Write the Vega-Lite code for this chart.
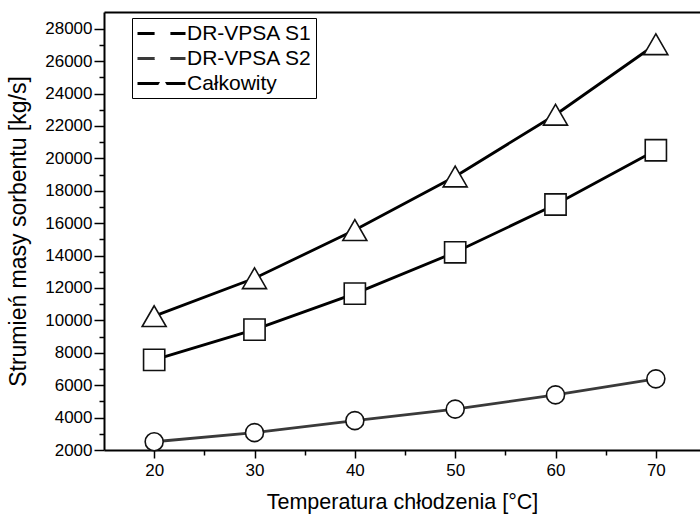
{
  "$schema": "https://vega.github.io/schema/vega-lite/v6.json",
  "width": 596,
  "height": 438,
  "autosize": "none",
  "padding": {"left": 104, "top": 12, "right": 0, "bottom": 68},
  "background": "white",
  "config": {
    "font": "Liberation Sans",
    "view": {"stroke": null},
    "axis": {"labelFont": "Liberation Sans", "titleFont": "Liberation Sans", "labelColor": "black", "titleColor": "black", "domainColor": "black", "tickColor": "black", "grid": false, "titleFontWeight": "normal"},
    "legend": {"labelFont": "Liberation Sans", "labelColor": "black"}
  },
  "data": {
    "values": [
      {"T": 20, "series": "DR-VPSA S1", "v": 7560},
      {"T": 30, "series": "DR-VPSA S1", "v": 9430},
      {"T": 40, "series": "DR-VPSA S1", "v": 11650},
      {"T": 50, "series": "DR-VPSA S1", "v": 14200},
      {"T": 60, "series": "DR-VPSA S1", "v": 17150},
      {"T": 70, "series": "DR-VPSA S1", "v": 20500},
      {"T": 20, "series": "DR-VPSA S2", "v": 2510},
      {"T": 30, "series": "DR-VPSA S2", "v": 3070},
      {"T": 40, "series": "DR-VPSA S2", "v": 3810},
      {"T": 50, "series": "DR-VPSA S2", "v": 4520},
      {"T": 60, "series": "DR-VPSA S2", "v": 5400},
      {"T": 70, "series": "DR-VPSA S2", "v": 6390},
      {"T": 20, "series": "Całkowity", "v": 10260},
      {"T": 30, "series": "Całkowity", "v": 12600},
      {"T": 40, "series": "Całkowity", "v": 15570},
      {"T": 50, "series": "Całkowity", "v": 18880},
      {"T": 60, "series": "Całkowity", "v": 22690},
      {"T": 70, "series": "Całkowity", "v": 27040}
    ]
  },
  "resolve": {"axis": {"x": "independent", "y": "independent"}},
  "layer": [
    {
      "mark": {"type": "point", "opacity": 0},
      "encoding": {
        "x": {"field": "T", "type": "quantitative", "scale": {"domain": [15, 74.4], "nice": false, "zero": false},
          "axis": {"orient": "bottom", "values": [25, 35, 45, 55, 65], "tickSize": 5, "tickWidth": 1.5, "labels": false, "domain": false, "title": null}},
        "y": {"field": "v", "type": "quantitative", "scale": {"domain": [2000, 29030], "nice": false, "zero": false},
          "axis": {"orient": "left", "values": [3000, 5000, 7000, 9000, 11000, 13000, 15000, 17000, 19000, 21000, 23000, 25000, 27000], "tickSize": 5, "tickWidth": 1.5, "labels": false, "domain": false, "title": null}}
      }
    },
    {
      "mark": {"type": "point", "opacity": 0},
      "encoding": {
        "x": {"field": "T", "type": "quantitative",
          "axis": {"orient": "top", "ticks": false, "labels": false, "domain": true, "domainWidth": 2, "title": null}},
        "y": {"field": "v", "type": "quantitative", "axis": null}
      }
    },
    {
      "mark": {"type": "line", "strokeWidth": 2.8},
      "encoding": {
        "x": {"field": "T", "type": "quantitative",
          "axis": {"orient": "bottom", "values": [20, 30, 40, 50, 60, 70], "tickSize": 8, "tickWidth": 1.5, "domainWidth": 2, "labelFontSize": 17, "labelPadding": 4,
            "title": "Temperatura chłodzenia [°C]", "titleFontSize": 21.5, "titlePadding": 13}},
        "y": {"field": "v", "type": "quantitative",
          "axis": {"orient": "left", "values": [2000, 4000, 6000, 8000, 10000, 12000, 14000, 16000, 18000, 20000, 22000, 24000, 26000, 28000], "format": "d", "tickSize": 10, "tickWidth": 1.5, "domainWidth": 2, "labelFontSize": 17, "labelPadding": 2,
            "title": "Strumień masy sorbentu [kg/s]", "titleFontSize": 23, "titlePadding": 14}},
        "color": {"field": "series", "type": "nominal",
          "scale": {"domain": ["DR-VPSA S1", "DR-VPSA S2", "Całkowity"], "range": ["#000000", "#3a3a3a", "#000000"]},
          "legend": {"orient": "none", "legendX": 28, "legendY": 6, "title": null, "symbolType": "M-2.4,0H2.4", "symbolSize": 400, "symbolStrokeWidth": 3, "symbolOffset": 14,
            "labelFontSize": 21, "labelOffset": 14, "rowPadding": 3, "padding": 4, "strokeColor": "black"}}
      }
    },
    {
      "mark": {"type": "point", "filled": false, "fill": "white", "stroke": "#111111", "strokeWidth": 1.6, "opacity": 1, "fillOpacity": 1},
      "encoding": {
        "x": {"field": "T", "type": "quantitative", "axis": null},
        "y": {"field": "v", "type": "quantitative", "axis": null},
        "shape": {"field": "series", "type": "nominal", "sort": ["DR-VPSA S1", "DR-VPSA S2", "Całkowity"],
          "scale": {"range": ["square", "circle", "triangle-up"]},
          "legend": {"orient": "top-left", "offset": 6, "title": null, "symbolSize": 250, "symbolOffset": 38, "symbolFillColor": "white", "symbolStrokeColor": "black", "symbolStrokeWidth": 1.5,
            "labelFontSize": 21, "labelOffset": 2, "rowPadding": 3, "padding": 4, "labelExpr": "''",
            "encode": {"symbols": {"update": {"stroke": {"value": "black"}, "strokeOpacity": {"value": 1}, "strokeWidth": {"value": 1.5}, "fill": {"value": "white"}, "fillOpacity": {"value": 1}, "opacity": {"value": 1}}}}}},
        "size": {"field": "series", "type": "nominal", "sort": ["Całkowity", "DR-VPSA S1", "DR-VPSA S2"],
          "scale": {"range": [576, 324, 346]}, "legend": null}
      }
    }
  ]
}
